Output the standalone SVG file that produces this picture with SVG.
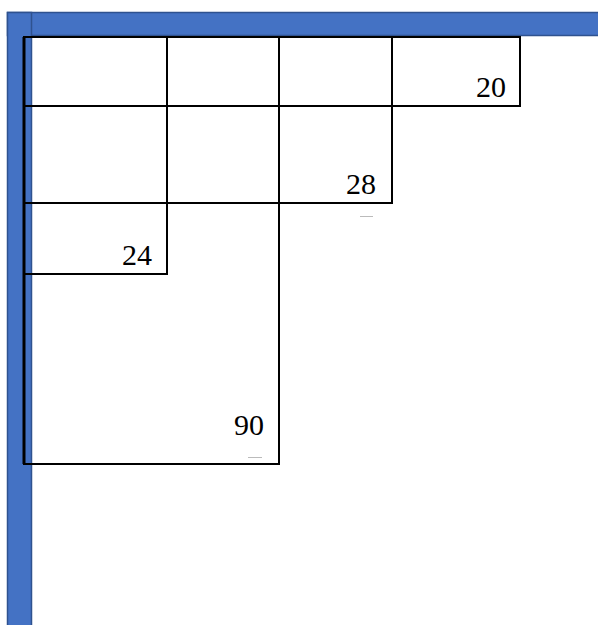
<svg xmlns="http://www.w3.org/2000/svg" width="598" height="625" viewBox="0 0 598 625">
<style>
.bar{fill:#4472C4;stroke:#2F528F;stroke-width:1.5}
.box{fill:none;stroke:#000;stroke-width:2}
.lbl{font-size:30px;fill:#000;text-anchor:end}
.tick{stroke:#bbb;stroke-width:1}
</style>
<rect width="598" height="625" fill="#fff"/>
<g id="frame">
<rect class="bar" x="7.5" y="12.5" width="592" height="23"/>
<rect class="bar" x="7.5" y="12.5" width="24" height="615"/>
</g>
<g id="box90"><rect class="box" x="24" y="37" width="255" height="427"/><text class="lbl" font-family="Liberation Serif, serif" x="264" y="435">90</text></g>
<g id="box24"><rect class="box" x="24" y="37" width="143" height="237"/><text class="lbl" font-family="Liberation Serif, serif" x="152" y="265">24</text></g>
<g id="box28"><rect class="box" x="24" y="37" width="368" height="166"/><text class="lbl" font-family="Liberation Serif, serif" x="376" y="194">28</text></g>
<g id="box20"><rect class="box" x="24" y="37" width="496" height="69"/><text class="lbl" font-family="Liberation Serif, serif" x="506" y="97">20</text></g>
<g id="connectors"></g>
<line x1="24" y1="37" x2="24" y2="464" stroke="#000" stroke-width="3"/>
<line class="tick" x1="360" y1="216.5" x2="373" y2="216.5"/>
<line class="tick" x1="248" y1="457.5" x2="262" y2="457.5"/>
</svg>
